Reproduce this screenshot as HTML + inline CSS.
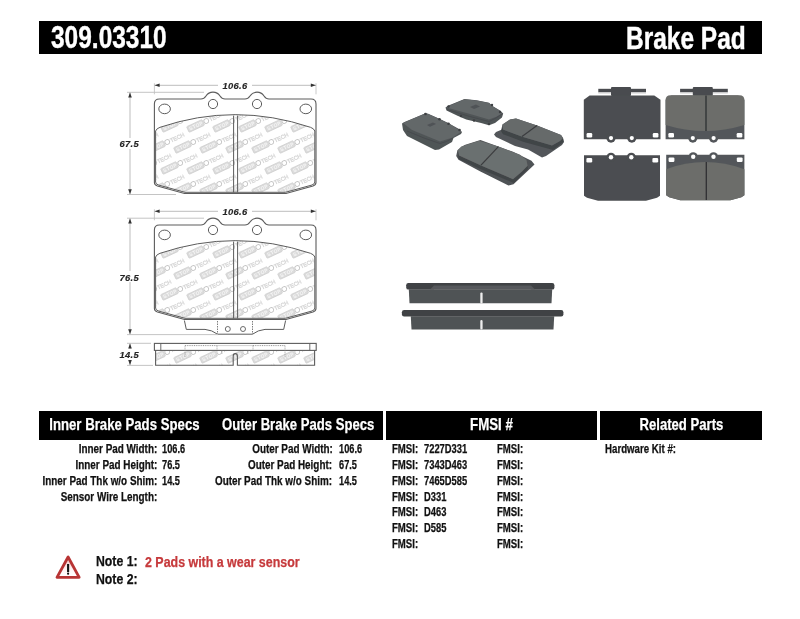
<!DOCTYPE html>
<html><head><meta charset="utf-8">
<style>
html,body{margin:0;padding:0;background:#fff;}
body{width:800px;height:619px;position:relative;overflow:hidden;font-family:"Liberation Sans",sans-serif;}
.a{position:absolute;white-space:nowrap;line-height:1;-webkit-text-stroke:0.25px currentColor;}
.n{display:inline-block;transform-origin:0 0;}
.bar{position:absolute;background:#000;}
svg{position:absolute;left:0;top:0;}
</style></head><body>
<svg width="800" height="619" viewBox="0 0 800 619">
<defs>
<clipPath id="cf1"><path d="M155.6 131 Q156.5 128.5 160 127.3 Q235 102 310.5 127.3 Q314 128.5 314.8 131 L314.8 182 Q314.8 184 312 185 L285.5 192.3 L185 192.3 L158.4 185 Q155.6 184 155.6 182 Z"/></clipPath>
<clipPath id="cf2"><path d="M155.6 257 Q156.5 254.5 160 253.3 Q235 228 310.5 253.3 Q314 254.5 314.8 257 L314.8 308 Q314.8 310 312 311 L285.5 318.3 L185 318.3 L158.4 311 Q155.6 310 155.6 308 Z"/></clipPath>
<clipPath id="cf3"><rect x="155.5" y="350.5" width="159" height="15"/></clipPath>
<pattern id="wm" patternUnits="userSpaceOnUse" x="150" y="90" width="26" height="42"><g transform="translate(-52 -21) rotate(-25)"><rect x="0" y="-5.8" width="17" height="6.2" rx="0.8" fill="#dcdcdc" stroke="#c8c8c8" stroke-width="0.6"/><text x="1.7" y="-1" font-size="5" font-weight="bold" fill="#f6f6f6" letter-spacing="0.35">STOP</text><circle cx="20.3" cy="-2.7" r="2.4" fill="none" stroke="#c4c4c4" stroke-width="0.9"/><text x="23.6" y="-0.5" font-size="5.6" fill="none" stroke="#d6d6d6" stroke-width="0.45">TECH</text></g><g transform="translate(-39 0) rotate(-25)"><rect x="0" y="-5.8" width="17" height="6.2" rx="0.8" fill="#dcdcdc" stroke="#c8c8c8" stroke-width="0.6"/><text x="1.7" y="-1" font-size="5" font-weight="bold" fill="#f6f6f6" letter-spacing="0.35">STOP</text><circle cx="20.3" cy="-2.7" r="2.4" fill="none" stroke="#c4c4c4" stroke-width="0.9"/><text x="23.6" y="-0.5" font-size="5.6" fill="none" stroke="#d6d6d6" stroke-width="0.45">TECH</text></g><g transform="translate(-52 21) rotate(-25)"><rect x="0" y="-5.8" width="17" height="6.2" rx="0.8" fill="#dcdcdc" stroke="#c8c8c8" stroke-width="0.6"/><text x="1.7" y="-1" font-size="5" font-weight="bold" fill="#f6f6f6" letter-spacing="0.35">STOP</text><circle cx="20.3" cy="-2.7" r="2.4" fill="none" stroke="#c4c4c4" stroke-width="0.9"/><text x="23.6" y="-0.5" font-size="5.6" fill="none" stroke="#d6d6d6" stroke-width="0.45">TECH</text></g><g transform="translate(-39 42) rotate(-25)"><rect x="0" y="-5.8" width="17" height="6.2" rx="0.8" fill="#dcdcdc" stroke="#c8c8c8" stroke-width="0.6"/><text x="1.7" y="-1" font-size="5" font-weight="bold" fill="#f6f6f6" letter-spacing="0.35">STOP</text><circle cx="20.3" cy="-2.7" r="2.4" fill="none" stroke="#c4c4c4" stroke-width="0.9"/><text x="23.6" y="-0.5" font-size="5.6" fill="none" stroke="#d6d6d6" stroke-width="0.45">TECH</text></g><g transform="translate(-52 63) rotate(-25)"><rect x="0" y="-5.8" width="17" height="6.2" rx="0.8" fill="#dcdcdc" stroke="#c8c8c8" stroke-width="0.6"/><text x="1.7" y="-1" font-size="5" font-weight="bold" fill="#f6f6f6" letter-spacing="0.35">STOP</text><circle cx="20.3" cy="-2.7" r="2.4" fill="none" stroke="#c4c4c4" stroke-width="0.9"/><text x="23.6" y="-0.5" font-size="5.6" fill="none" stroke="#d6d6d6" stroke-width="0.45">TECH</text></g><g transform="translate(-39 84) rotate(-25)"><rect x="0" y="-5.8" width="17" height="6.2" rx="0.8" fill="#dcdcdc" stroke="#c8c8c8" stroke-width="0.6"/><text x="1.7" y="-1" font-size="5" font-weight="bold" fill="#f6f6f6" letter-spacing="0.35">STOP</text><circle cx="20.3" cy="-2.7" r="2.4" fill="none" stroke="#c4c4c4" stroke-width="0.9"/><text x="23.6" y="-0.5" font-size="5.6" fill="none" stroke="#d6d6d6" stroke-width="0.45">TECH</text></g><g transform="translate(-26 -21) rotate(-25)"><rect x="0" y="-5.8" width="17" height="6.2" rx="0.8" fill="#dcdcdc" stroke="#c8c8c8" stroke-width="0.6"/><text x="1.7" y="-1" font-size="5" font-weight="bold" fill="#f6f6f6" letter-spacing="0.35">STOP</text><circle cx="20.3" cy="-2.7" r="2.4" fill="none" stroke="#c4c4c4" stroke-width="0.9"/><text x="23.6" y="-0.5" font-size="5.6" fill="none" stroke="#d6d6d6" stroke-width="0.45">TECH</text></g><g transform="translate(-13 0) rotate(-25)"><rect x="0" y="-5.8" width="17" height="6.2" rx="0.8" fill="#dcdcdc" stroke="#c8c8c8" stroke-width="0.6"/><text x="1.7" y="-1" font-size="5" font-weight="bold" fill="#f6f6f6" letter-spacing="0.35">STOP</text><circle cx="20.3" cy="-2.7" r="2.4" fill="none" stroke="#c4c4c4" stroke-width="0.9"/><text x="23.6" y="-0.5" font-size="5.6" fill="none" stroke="#d6d6d6" stroke-width="0.45">TECH</text></g><g transform="translate(-26 21) rotate(-25)"><rect x="0" y="-5.8" width="17" height="6.2" rx="0.8" fill="#dcdcdc" stroke="#c8c8c8" stroke-width="0.6"/><text x="1.7" y="-1" font-size="5" font-weight="bold" fill="#f6f6f6" letter-spacing="0.35">STOP</text><circle cx="20.3" cy="-2.7" r="2.4" fill="none" stroke="#c4c4c4" stroke-width="0.9"/><text x="23.6" y="-0.5" font-size="5.6" fill="none" stroke="#d6d6d6" stroke-width="0.45">TECH</text></g><g transform="translate(-13 42) rotate(-25)"><rect x="0" y="-5.8" width="17" height="6.2" rx="0.8" fill="#dcdcdc" stroke="#c8c8c8" stroke-width="0.6"/><text x="1.7" y="-1" font-size="5" font-weight="bold" fill="#f6f6f6" letter-spacing="0.35">STOP</text><circle cx="20.3" cy="-2.7" r="2.4" fill="none" stroke="#c4c4c4" stroke-width="0.9"/><text x="23.6" y="-0.5" font-size="5.6" fill="none" stroke="#d6d6d6" stroke-width="0.45">TECH</text></g><g transform="translate(-26 63) rotate(-25)"><rect x="0" y="-5.8" width="17" height="6.2" rx="0.8" fill="#dcdcdc" stroke="#c8c8c8" stroke-width="0.6"/><text x="1.7" y="-1" font-size="5" font-weight="bold" fill="#f6f6f6" letter-spacing="0.35">STOP</text><circle cx="20.3" cy="-2.7" r="2.4" fill="none" stroke="#c4c4c4" stroke-width="0.9"/><text x="23.6" y="-0.5" font-size="5.6" fill="none" stroke="#d6d6d6" stroke-width="0.45">TECH</text></g><g transform="translate(-13 84) rotate(-25)"><rect x="0" y="-5.8" width="17" height="6.2" rx="0.8" fill="#dcdcdc" stroke="#c8c8c8" stroke-width="0.6"/><text x="1.7" y="-1" font-size="5" font-weight="bold" fill="#f6f6f6" letter-spacing="0.35">STOP</text><circle cx="20.3" cy="-2.7" r="2.4" fill="none" stroke="#c4c4c4" stroke-width="0.9"/><text x="23.6" y="-0.5" font-size="5.6" fill="none" stroke="#d6d6d6" stroke-width="0.45">TECH</text></g><g transform="translate(0 -21) rotate(-25)"><rect x="0" y="-5.8" width="17" height="6.2" rx="0.8" fill="#dcdcdc" stroke="#c8c8c8" stroke-width="0.6"/><text x="1.7" y="-1" font-size="5" font-weight="bold" fill="#f6f6f6" letter-spacing="0.35">STOP</text><circle cx="20.3" cy="-2.7" r="2.4" fill="none" stroke="#c4c4c4" stroke-width="0.9"/><text x="23.6" y="-0.5" font-size="5.6" fill="none" stroke="#d6d6d6" stroke-width="0.45">TECH</text></g><g transform="translate(13 0) rotate(-25)"><rect x="0" y="-5.8" width="17" height="6.2" rx="0.8" fill="#dcdcdc" stroke="#c8c8c8" stroke-width="0.6"/><text x="1.7" y="-1" font-size="5" font-weight="bold" fill="#f6f6f6" letter-spacing="0.35">STOP</text><circle cx="20.3" cy="-2.7" r="2.4" fill="none" stroke="#c4c4c4" stroke-width="0.9"/><text x="23.6" y="-0.5" font-size="5.6" fill="none" stroke="#d6d6d6" stroke-width="0.45">TECH</text></g><g transform="translate(0 21) rotate(-25)"><rect x="0" y="-5.8" width="17" height="6.2" rx="0.8" fill="#dcdcdc" stroke="#c8c8c8" stroke-width="0.6"/><text x="1.7" y="-1" font-size="5" font-weight="bold" fill="#f6f6f6" letter-spacing="0.35">STOP</text><circle cx="20.3" cy="-2.7" r="2.4" fill="none" stroke="#c4c4c4" stroke-width="0.9"/><text x="23.6" y="-0.5" font-size="5.6" fill="none" stroke="#d6d6d6" stroke-width="0.45">TECH</text></g><g transform="translate(13 42) rotate(-25)"><rect x="0" y="-5.8" width="17" height="6.2" rx="0.8" fill="#dcdcdc" stroke="#c8c8c8" stroke-width="0.6"/><text x="1.7" y="-1" font-size="5" font-weight="bold" fill="#f6f6f6" letter-spacing="0.35">STOP</text><circle cx="20.3" cy="-2.7" r="2.4" fill="none" stroke="#c4c4c4" stroke-width="0.9"/><text x="23.6" y="-0.5" font-size="5.6" fill="none" stroke="#d6d6d6" stroke-width="0.45">TECH</text></g><g transform="translate(0 63) rotate(-25)"><rect x="0" y="-5.8" width="17" height="6.2" rx="0.8" fill="#dcdcdc" stroke="#c8c8c8" stroke-width="0.6"/><text x="1.7" y="-1" font-size="5" font-weight="bold" fill="#f6f6f6" letter-spacing="0.35">STOP</text><circle cx="20.3" cy="-2.7" r="2.4" fill="none" stroke="#c4c4c4" stroke-width="0.9"/><text x="23.6" y="-0.5" font-size="5.6" fill="none" stroke="#d6d6d6" stroke-width="0.45">TECH</text></g><g transform="translate(13 84) rotate(-25)"><rect x="0" y="-5.8" width="17" height="6.2" rx="0.8" fill="#dcdcdc" stroke="#c8c8c8" stroke-width="0.6"/><text x="1.7" y="-1" font-size="5" font-weight="bold" fill="#f6f6f6" letter-spacing="0.35">STOP</text><circle cx="20.3" cy="-2.7" r="2.4" fill="none" stroke="#c4c4c4" stroke-width="0.9"/><text x="23.6" y="-0.5" font-size="5.6" fill="none" stroke="#d6d6d6" stroke-width="0.45">TECH</text></g><g transform="translate(26 -21) rotate(-25)"><rect x="0" y="-5.8" width="17" height="6.2" rx="0.8" fill="#dcdcdc" stroke="#c8c8c8" stroke-width="0.6"/><text x="1.7" y="-1" font-size="5" font-weight="bold" fill="#f6f6f6" letter-spacing="0.35">STOP</text><circle cx="20.3" cy="-2.7" r="2.4" fill="none" stroke="#c4c4c4" stroke-width="0.9"/><text x="23.6" y="-0.5" font-size="5.6" fill="none" stroke="#d6d6d6" stroke-width="0.45">TECH</text></g><g transform="translate(39 0) rotate(-25)"><rect x="0" y="-5.8" width="17" height="6.2" rx="0.8" fill="#dcdcdc" stroke="#c8c8c8" stroke-width="0.6"/><text x="1.7" y="-1" font-size="5" font-weight="bold" fill="#f6f6f6" letter-spacing="0.35">STOP</text><circle cx="20.3" cy="-2.7" r="2.4" fill="none" stroke="#c4c4c4" stroke-width="0.9"/><text x="23.6" y="-0.5" font-size="5.6" fill="none" stroke="#d6d6d6" stroke-width="0.45">TECH</text></g><g transform="translate(26 21) rotate(-25)"><rect x="0" y="-5.8" width="17" height="6.2" rx="0.8" fill="#dcdcdc" stroke="#c8c8c8" stroke-width="0.6"/><text x="1.7" y="-1" font-size="5" font-weight="bold" fill="#f6f6f6" letter-spacing="0.35">STOP</text><circle cx="20.3" cy="-2.7" r="2.4" fill="none" stroke="#c4c4c4" stroke-width="0.9"/><text x="23.6" y="-0.5" font-size="5.6" fill="none" stroke="#d6d6d6" stroke-width="0.45">TECH</text></g><g transform="translate(39 42) rotate(-25)"><rect x="0" y="-5.8" width="17" height="6.2" rx="0.8" fill="#dcdcdc" stroke="#c8c8c8" stroke-width="0.6"/><text x="1.7" y="-1" font-size="5" font-weight="bold" fill="#f6f6f6" letter-spacing="0.35">STOP</text><circle cx="20.3" cy="-2.7" r="2.4" fill="none" stroke="#c4c4c4" stroke-width="0.9"/><text x="23.6" y="-0.5" font-size="5.6" fill="none" stroke="#d6d6d6" stroke-width="0.45">TECH</text></g><g transform="translate(26 63) rotate(-25)"><rect x="0" y="-5.8" width="17" height="6.2" rx="0.8" fill="#dcdcdc" stroke="#c8c8c8" stroke-width="0.6"/><text x="1.7" y="-1" font-size="5" font-weight="bold" fill="#f6f6f6" letter-spacing="0.35">STOP</text><circle cx="20.3" cy="-2.7" r="2.4" fill="none" stroke="#c4c4c4" stroke-width="0.9"/><text x="23.6" y="-0.5" font-size="5.6" fill="none" stroke="#d6d6d6" stroke-width="0.45">TECH</text></g><g transform="translate(39 84) rotate(-25)"><rect x="0" y="-5.8" width="17" height="6.2" rx="0.8" fill="#dcdcdc" stroke="#c8c8c8" stroke-width="0.6"/><text x="1.7" y="-1" font-size="5" font-weight="bold" fill="#f6f6f6" letter-spacing="0.35">STOP</text><circle cx="20.3" cy="-2.7" r="2.4" fill="none" stroke="#c4c4c4" stroke-width="0.9"/><text x="23.6" y="-0.5" font-size="5.6" fill="none" stroke="#d6d6d6" stroke-width="0.45">TECH</text></g></pattern>
</defs>
<rect x="150" y="90" width="170" height="110" fill="url(#wm)" clip-path="url(#cf1)"/>
<path d="M154.4 104 Q154.4 99 159.4 99 L201 99 Q204 99 206 96 A8.3 8.3 0 0 1 220 96 Q222 99 225 99 L245 99 Q248 99 250 96 A8.3 8.3 0 0 1 264 96 Q266 99 269 99 L311 99 Q316 99 316 104 L316 182.5 Q316 185 313 186 L286 193.5 L184.5 193.5 L157.4 186 Q154.4 185 154.4 182.5 Z" fill="none" stroke="#5c5c5c" stroke-width="1.1"/>
<path d="M155.6 131 Q156.5 128.5 160 127.3 Q235 102 310.5 127.3 Q314 128.5 314.8 131 L314.8 182 Q314.8 184 312 185 L285.5 192.3 L185 192.3 L158.4 185 Q155.6 184 155.6 182 Z" fill="none" stroke="#5c5c5c" stroke-width="1"/>
<path d="M233.6 115.6 L233.6 192.5 M237.6 115.6 L237.6 192.5" stroke="#5c5c5c" stroke-width="1"/>
<ellipse cx="164.6" cy="108.9" rx="5.8" ry="4.8" fill="none" stroke="#5c5c5c" stroke-width="1"/>
<ellipse cx="305.8" cy="108.9" rx="5.8" ry="4.8" fill="none" stroke="#5c5c5c" stroke-width="1"/>
<circle cx="213" cy="104" r="4.6" fill="none" stroke="#5c5c5c" stroke-width="1"/>
<circle cx="257" cy="104" r="4.6" fill="none" stroke="#5c5c5c" stroke-width="1"/>
<path d="M154.4 85.3 L316 85.3" stroke="#bdbdbd" stroke-width="1"/>
<path d="M154.4 83.3 L154.4 94.3 M316 83.3 L316 94.3" stroke="#bdbdbd" stroke-width="0.8"/>
<path d="M154.6 85.3 L159.6 83.5 L159.6 87.1 Z" fill="#333"/>
<path d="M315.8 85.3 L310.8 83.5 L310.8 87.1 Z" fill="#333"/>
<rect x="218" y="80.3" width="34" height="10" fill="#fff"/>
<text x="235" y="88.5" text-anchor="middle" font-family="Liberation Sans" font-weight="bold" font-style="italic" font-size="9.4" fill="#222" stroke="#222" stroke-width="0.15" letter-spacing="0.35" opacity="0.99">106.6</text>
<rect x="150" y="216" width="170" height="110" fill="url(#wm)" clip-path="url(#cf2)"/>
<path d="M154.4 230 Q154.4 225 159.4 225 L201 225 Q204 225 206 222 A8.3 8.3 0 0 1 220 222 Q222 225 225 225 L245 225 Q248 225 250 222 A8.3 8.3 0 0 1 264 222 Q266 225 269 225 L311 225 Q316 225 316 230 L316 308.5 Q316 311 313 312 L286 319.5 L184.5 319.5 L157.4 312 Q154.4 311 154.4 308.5 Z" fill="none" stroke="#5c5c5c" stroke-width="1.1"/>
<path d="M155.6 257 Q156.5 254.5 160 253.3 Q235 228 310.5 253.3 Q314 254.5 314.8 257 L314.8 308 Q314.8 310 312 311 L285.5 318.3 L185 318.3 L158.4 311 Q155.6 310 155.6 308 Z" fill="none" stroke="#5c5c5c" stroke-width="1"/>
<path d="M233.6 241.6 L233.6 318.5 M237.6 241.6 L237.6 318.5" stroke="#5c5c5c" stroke-width="1"/>
<ellipse cx="164.6" cy="234.9" rx="5.8" ry="4.8" fill="none" stroke="#5c5c5c" stroke-width="1"/>
<ellipse cx="305.8" cy="234.9" rx="5.8" ry="4.8" fill="none" stroke="#5c5c5c" stroke-width="1"/>
<circle cx="213" cy="230" r="4.6" fill="none" stroke="#5c5c5c" stroke-width="1"/>
<circle cx="257" cy="230" r="4.6" fill="none" stroke="#5c5c5c" stroke-width="1"/>
<path d="M154.4 211.3 L316 211.3" stroke="#bdbdbd" stroke-width="1"/>
<path d="M154.4 209.3 L154.4 220.3 M316 209.3 L316 220.3" stroke="#bdbdbd" stroke-width="0.8"/>
<path d="M154.6 211.3 L159.6 209.5 L159.6 213.10000000000002 Z" fill="#333"/>
<path d="M315.8 211.3 L310.8 209.5 L310.8 213.10000000000002 Z" fill="#333"/>
<rect x="218" y="206.3" width="34" height="10" fill="#fff"/>
<text x="235" y="214.5" text-anchor="middle" font-family="Liberation Sans" font-weight="bold" font-style="italic" font-size="9.4" fill="#222" stroke="#222" stroke-width="0.15" letter-spacing="0.35" opacity="0.99">106.6</text>
<path d="M130 92.3 L130 194.3" stroke="#bdbdbd" stroke-width="1"/>
<path d="M127 92.3 L204 92.3 M127 194.5 L176 194.5" stroke="#bdbdbd" stroke-width="0.9"/>
<path d="M130 92.5 L128.2 97.5 L131.8 97.5 Z" fill="#333"/>
<path d="M130 194.2 L128.2 189.2 L131.8 189.2 Z" fill="#333"/>
<rect x="118" y="138" width="23" height="11" fill="#fff"/>
<text x="129.3" y="147" text-anchor="middle" font-family="Liberation Sans" font-weight="bold" font-style="italic" font-size="9.4" fill="#222" stroke="#222" stroke-width="0.15" letter-spacing="0.35" opacity="0.99">67.5</text>
<path d="M184.4 320.5 L186.3 329.4 L205 329.4 Q212 330 217.5 334.2 L252.5 334.2 Q258 330 265 329.4 L283.7 329.4 L285.6 320.5" fill="none" stroke="#5c5c5c" stroke-width="1"/>
<path d="M217.5 321 L217.5 334 M252.5 321 L252.5 334" stroke="#5c5c5c" stroke-width="0.8" stroke-dasharray="1.5 1"/>
<circle cx="227.8" cy="329" r="2.5" fill="none" stroke="#5c5c5c" stroke-width="0.9"/>
<circle cx="243" cy="329" r="2.5" fill="none" stroke="#5c5c5c" stroke-width="0.9"/>
<path d="M130 218.3 L130 334.3" stroke="#bdbdbd" stroke-width="1"/>
<path d="M127 218.2 L204 218.2 M127 334.6 L218 334.6" stroke="#bdbdbd" stroke-width="0.9"/>
<path d="M130 218.5 L128.2 223.5 L131.8 223.5 Z" fill="#333"/>
<path d="M130 334.3 L128.2 329.3 L131.8 329.3 Z" fill="#333"/>
<rect x="118" y="271" width="23" height="11" fill="#fff"/>
<text x="129.3" y="280.5" text-anchor="middle" font-family="Liberation Sans" font-weight="bold" font-style="italic" font-size="9.4" fill="#222" stroke="#222" stroke-width="0.15" letter-spacing="0.35" opacity="0.99">76.5</text>
<rect x="150" y="318" width="170" height="110" fill="url(#wm)" clip-path="url(#cf3)"/>
<rect x="154.4" y="343.4" width="161.8" height="7" fill="none" stroke="#5c5c5c" stroke-width="1.1"/>
<path d="M160.8 343.5 L160.8 350.4 M309.8 343.5 L309.8 350.4" stroke="#5c5c5c" stroke-width="0.9"/>
<path d="M155.6 350.6 L155.6 365.3 L233.2 365.3 L233.2 356 Q233.2 353.6 235.3 353.6 Q237.4 353.6 237.4 356 L237.4 365.3 L314.6 365.3 L314.6 350.6" fill="none" stroke="#5c5c5c" stroke-width="1.1"/>
<path d="M130 343.5 L130 365.2" stroke="#bdbdbd" stroke-width="1"/>
<path d="M127 343.3 L151 343.3 M127 365.4 L153 365.4" stroke="#bdbdbd" stroke-width="0.9"/>
<path d="M130 343.6 L128.2 348.6 L131.8 348.6 Z" fill="#333"/>
<path d="M130 365.1 L128.2 360.1 L131.8 360.1 Z" fill="#333"/>
<rect x="118" y="349" width="23" height="11" fill="#fff"/>
<text x="129.3" y="358" text-anchor="middle" font-family="Liberation Sans" font-weight="bold" font-style="italic" font-size="9.4" fill="#222" stroke="#222" stroke-width="0.15" letter-spacing="0.35" opacity="0.99">14.5</text>
<path d="M185 345.6 L217 345.6 M253 345.6 L285 345.6" stroke="#8a8a8a" stroke-width="0.9" stroke-dasharray="1 0.8"/>
<path d="M217 345.6 L253 345.6" stroke="#b0b0b0" stroke-width="0.6"/>
<path d="M185 345.6 L185 357 M217 345.6 L217 350 M253 345.6 L253 350 M285 345.6 L285 357 M222 350.5 L222 354 M248 350.5 L248 354" stroke="#8a8a8a" stroke-width="0.7" stroke-dasharray="1.2 0.8"/>
<defs><linearGradient id="tg" x1="0" y1="0" x2="0" y2="1"><stop offset="0" stop-color="#eebbbb"/><stop offset="0.6" stop-color="#fff4f4"/><stop offset="1" stop-color="#ffffff"/></linearGradient></defs>
<path d="M68.1 557 L57 577.3 L79.2 577.3 Z" fill="url(#tg)" stroke="#b83434" stroke-width="2.8" stroke-linejoin="round"/>
<path d="M68.1 564 L68.1 572" stroke="#151515" stroke-width="2.1"/>
<circle cx="68.1" cy="573.7" r="1.1" fill="#111"/>
</svg><svg width="800" height="619" viewBox="0 0 800 619">
<defs><filter id="bl" x="-5%" y="-5%" width="110%" height="110%"><feGaussianBlur stdDeviation="0.45"/></filter></defs>
<g filter="url(#bl)">
<path d="M402.0 123.5 L404.5 122.0 L425.0 113.5 L428.0 113.8 L440.0 119.0 L449.0 123.5 L459.0 129.0 L462.0 132.0 L461.0 134.0 L453.5 138.0 L452.0 142.0 L439.0 149.5 L435.0 150.0 L407.0 136.0 L403.0 130.0 Z" fill="#505456" />
<path d="M403.0 123.0 L425.0 113.5 L428.0 113.8 L449.0 123.5 L461.5 131.5 L453.0 137.5 L440.0 141.5 L412.0 130.0 Z" fill="#636769" />
<path d="M445.5 107.5 L448.5 105.5 L464.5 99.0 L476.7 100.2 L489.0 102.8 L492.5 106.0 L500.4 110.8 L503.2 113.6 L502.0 117.5 L495.0 123.0 L489.0 125.2 L481.1 123.0 L466.2 119.5 L457.5 115.8 L446.5 110.5 Z" fill="#505456" />
<path d="M446.0 107.2 L464.5 99.2 L476.7 100.5 L489.0 103.1 L492.5 106.2 L500.4 111.0 L502.0 113.5 L497.0 116.5 L489.0 119.5 L470.0 114.0 L450.0 108.5 Z" fill="#636769" />
<path d="M494.0 134.5 L496.0 132.0 L502.0 129.5 L502.5 124.5 L510.0 119.5 L516.0 118.5 L537.0 125.5 L561.0 135.0 L563.0 138.0 L564.0 142.0 L562.0 145.0 L546.0 156.0 L542.0 157.5 L528.0 149.5 L515.0 146.0 L496.0 137.0 Z" fill="#53575a" />
<path d="M502.5 124.5 L503.0 129.5 L523.0 137.0 L552.0 145.5 L560.0 141.0 L563.0 138.0 L563.5 142.0 L553.0 150.0 L523.0 141.8 L503.0 134.2 L501.0 131.0 Z" fill="#414447" />
<path d="M502.5 124.5 L510.0 119.5 L516.0 118.5 L537.0 125.5 L561.0 135.0 L563.0 138.0 L560.0 141.0 L552.0 145.5 L523.0 137.0 L503.0 129.5 Z" fill="#666a6b" />
<path d="M537 125.5 L522 136.5" stroke="#3a3c3e" stroke-width="1.2"/>
<path d="M456.2 156.0 L457.4 150.2 L464.6 145.0 L480.4 140.0 L513.0 151.8 L531.5 160.8 L534.5 164.6 L529.2 169.5 L513.5 184.3 L508.5 185.5 L480.4 171.5 L458.5 159.8 Z" fill="#505356" />
<path d="M457.9 150.0 L459.0 155.6 L481.5 165.7 L513.0 179.2 L522.0 171.4 L527.6 165.7 L528.0 169.0 L514.0 183.0 L481.5 169.5 L458.5 159.0 Z" fill="#414447" />
<path d="M457.9 150.0 L461.2 146.6 L479.2 140.8 L498.4 146.6 L519.7 154.5 L526.5 160.1 L527.6 165.7 L522.0 171.4 L513.0 179.2 L481.5 165.7 L459.0 155.6 Z" fill="#6b6f6f" />
<path d="M498.4 146.6 L481 165.2" stroke="#3a3c3e" stroke-width="1.2"/>
<circle cx="425.5" cy="114" r="1.3" fill="#3c3f42"/>
<circle cx="439.5" cy="119.2" r="1.3" fill="#3c3f42"/>
<circle cx="448.5" cy="123.8" r="1.3" fill="#3c3f42"/>
<circle cx="459.5" cy="130" r="1.3" fill="#3c3f42"/>
<path d="M427 125 L433 122.5 L436 124 L430 126.8 Z" fill="#4f5356"/>
<path d="M407 131 Q425 139 440 143.5 Q447 142 453 138" fill="none" stroke="#474b4e" stroke-width="1"/>
<circle cx="448.5" cy="106.5" r="1.2" fill="#3c3f42"/>
<circle cx="461" cy="116" r="1.2" fill="#3c3f42"/>
<circle cx="474" cy="120.5" r="1.2" fill="#3c3f42"/>
<circle cx="489" cy="124" r="1.2" fill="#3c3f42"/>
<circle cx="492" cy="105" r="1.2" fill="#3c3f42"/>
<circle cx="500" cy="112" r="1.2" fill="#3c3f42"/>
<path d="M470 107 L476 104.5 L480 106.5 L474 109 Z" fill="#4f5356"/>
<path d="M447 109.5 Q470 117 489 121.5 Q496 118.5 502 114" fill="none" stroke="#474b4e" stroke-width="1"/>
<rect x="598.3" y="88.8" width="47.7" height="3.6" fill="#4a4c4f"/>
<rect x="598.3" y="92.39999999999999" width="47.7" height="1.2" fill="#d8d8d8"/>
<rect x="611.0" y="87.0" width="20" height="9" rx="1" fill="#4a4c4f"/>
<path d="M583.8 99.8 L589.6 95.5 L654.3 95.5 L660.5 99.8 L660.5 139.3 L583.8 139.3 Z" fill="#4b4e51" />
<circle cx="611.0" cy="138.1" r="4.6" fill="#4b4e51"/><circle cx="631.8" cy="138.1" r="4.6" fill="#4b4e51"/>
<rect x="586.5999999999999" y="133.1" width="5.6" height="4.4" rx="1.2" fill="#fff"/><rect x="652.8" y="133.1" width="5.6" height="4.4" rx="1.2" fill="#fff"/>
<circle cx="611.0" cy="138.1" r="2.1" fill="#fff"/><circle cx="631.8" cy="138.1" r="2.1" fill="#fff"/>
<rect x="680.1" y="88.8" width="47.7" height="3.6" fill="#4a4c4f"/>
<rect x="680.1" y="92.39999999999999" width="47.7" height="1.2" fill="#d8d8d8"/>
<rect x="692.8000000000001" y="87.0" width="20" height="9" rx="1" fill="#4a4c4f"/>
<path d="M665.6 99.8 L671.4 95.5 L738.2 95.5 L744.4 99.8 L744.4 139.3 L665.6 139.3 Z" fill="#53575a" />
<circle cx="692.8000000000001" cy="138.1" r="4.6" fill="#53575a"/><circle cx="713.6" cy="138.1" r="4.6" fill="#53575a"/>
<rect x="668.4" y="133.1" width="5.6" height="4.4" rx="1.2" fill="#fff"/><rect x="736.6999999999999" y="133.1" width="5.6" height="4.4" rx="1.2" fill="#fff"/>
<circle cx="692.8000000000001" cy="138.1" r="2.1" fill="#fff"/><circle cx="713.6" cy="138.1" r="2.1" fill="#fff"/>
<path d="M665.6 100 Q665.6 95.3 670.5 95.3 L739.5 95.3 Q744.4 95.3 744.4 100 L744.4 125 Q705 137 665.6 125 Z" fill="#6c6d6a"/>
<path d="M706 95.5 L706 131" stroke="#2e3032" stroke-width="1.3"/>
<path d="M584.0 155.3 L660.0 155.3 L660.0 195.8 L657.0 197.8 L646.0 200.7 L598.0 200.7 L587.0 197.8 L584.0 195.8 Z" fill="#4b4e51" />
<circle cx="611" cy="157.3" r="4.6" fill="#4b4e51"/><circle cx="631.3" cy="157.3" r="4.6" fill="#4b4e51"/>
<rect x="586.4" y="157.9" width="5.8" height="4.6" rx="1.2" fill="#fff"/><rect x="652.4" y="157.9" width="5.8" height="4.6" rx="1.2" fill="#fff"/>
<circle cx="611" cy="157.3" r="2.2" fill="#fff"/><circle cx="631.3" cy="157.3" r="2.2" fill="#fff"/>
<path d="M666.2 154.8 L744.4 154.8 L744.4 195.3 L741.4 197.3 L730.4 200.2 L680.2 200.2 L669.2 197.3 L666.2 195.3 Z" fill="#53575a" />
<circle cx="693.2" cy="156.8" r="4.6" fill="#53575a"/><circle cx="713.5" cy="156.8" r="4.6" fill="#53575a"/>
<rect x="668.6" y="157.4" width="5.8" height="4.6" rx="1.2" fill="#fff"/><rect x="736.8000000000001" y="157.4" width="5.8" height="4.6" rx="1.2" fill="#fff"/>
<circle cx="693.2" cy="156.8" r="2.2" fill="#fff"/><circle cx="713.5" cy="156.8" r="2.2" fill="#fff"/>
<path d="M666.2 169.2 Q705 155 744.4 169.2 L744.4 195.3 L741.4 197.3 L730.4 200.2 L680.2 200.2 L669.2 197.3 L666.2 195.3 Z" fill="#6c6d6a"/>
<path d="M706.3 162 L706.3 200" stroke="#2e3032" stroke-width="1.3"/>
<rect x="406.2" y="283" width="148.2" height="6.6" rx="2.2" fill="#3f4245"/>
<path d="M408.8 289.3 L552.2 289.3 L551.5 303.3 L409.5 303.3 Z" fill="#4f5254"/>
<path d="M430 289.6 L434 285.5 L531 285.5 L535 289.6 Z" fill="#56595b"/>
<path d="M434 289.6 L531 289.6" stroke="#6a6d6f" stroke-width="0.7"/>
<rect x="480.3" y="292.5" width="2.3" height="11" rx="1.1" fill="#eeeeee"/>
<rect x="401.9" y="310" width="161.5" height="6.4" rx="2.2" fill="#3f4245"/>
<path d="M410.8 316.2 L554.2 316.2 L553.5 329.4 L411.5 329.4 Z" fill="#4f5254"/>
<rect x="480.3" y="320" width="2.3" height="9.6" rx="1.1" fill="#eeeeee"/>
</g></svg>
<div class="bar" style="left:39px;top:20.8px;width:723px;height:33.6px;"></div>
<div class="bar" style="left:39px;top:411px;width:344px;height:29px;"></div>
<div class="bar" style="left:386px;top:411px;width:211px;height:29px;"></div>
<div class="bar" style="left:600px;top:411px;width:162px;height:29px;"></div>
<div class="a" style="left:51.30px;top:21.01px;font-size:32px;color:#fff;font-weight:bold;-webkit-text-stroke:0.45px #fff;"><span class="n" style="transform:scaleX(0.765)">309.03310</span></div>
<div class="a" style="left:625.66px;top:22.01px;font-size:32px;color:#fff;font-weight:bold;-webkit-text-stroke:0.45px #fff;"><span class="n" style="transform:scaleX(0.765)">Brake Pad</span></div>
<div class="a" style="left:-175.70px;width:600px;text-align:center;top:416.12px;font-size:16.4px;color:#fff;font-weight:bold;"><span class="n" style="transform:scaleX(0.805);transform-origin:50% 0">Inner Brake Pads Specs</span></div>
<div class="a" style="left:-1.70px;width:600px;text-align:center;top:416.12px;font-size:16.4px;color:#fff;font-weight:bold;"><span class="n" style="transform:scaleX(0.8);transform-origin:50% 0">Outer Brake Pads Specs</span></div>
<div class="a" style="left:191.50px;width:600px;text-align:center;top:416.12px;font-size:16.4px;color:#fff;font-weight:bold;"><span class="n" style="transform:scaleX(0.81);transform-origin:50% 0">FMSI #</span></div>
<div class="a" style="left:381.00px;width:600px;text-align:center;top:416.12px;font-size:16.4px;color:#fff;font-weight:bold;"><span class="n" style="transform:scaleX(0.8);transform-origin:50% 0">Related Parts</span></div>
<div class="a" style="right:642.50px;top:443.34px;font-size:12px;color:#111;font-weight:bold;"><span class="n" style="transform:scaleX(0.824);transform-origin:100% 0">Inner Pad Width:</span></div>
<div class="a" style="left:162.00px;top:443.34px;font-size:12px;color:#111;font-weight:bold;"><span class="n" style="transform:scaleX(0.77)">106.6</span></div>
<div class="a" style="right:642.50px;top:459.09px;font-size:12px;color:#111;font-weight:bold;"><span class="n" style="transform:scaleX(0.824);transform-origin:100% 0">Inner Pad Height:</span></div>
<div class="a" style="left:162.00px;top:459.09px;font-size:12px;color:#111;font-weight:bold;"><span class="n" style="transform:scaleX(0.77)">76.5</span></div>
<div class="a" style="right:642.50px;top:474.84px;font-size:12px;color:#111;font-weight:bold;"><span class="n" style="transform:scaleX(0.824);transform-origin:100% 0">Inner Pad Thk w/o Shim:</span></div>
<div class="a" style="left:162.00px;top:474.84px;font-size:12px;color:#111;font-weight:bold;"><span class="n" style="transform:scaleX(0.77)">14.5</span></div>
<div class="a" style="right:642.50px;top:490.59px;font-size:12px;color:#111;font-weight:bold;"><span class="n" style="transform:scaleX(0.824);transform-origin:100% 0">Sensor Wire Length:</span></div>
<div class="a" style="right:467.50px;top:443.34px;font-size:12px;color:#111;font-weight:bold;"><span class="n" style="transform:scaleX(0.824);transform-origin:100% 0">Outer Pad Width:</span></div>
<div class="a" style="left:339.00px;top:443.34px;font-size:12px;color:#111;font-weight:bold;"><span class="n" style="transform:scaleX(0.77)">106.6</span></div>
<div class="a" style="right:467.50px;top:459.09px;font-size:12px;color:#111;font-weight:bold;"><span class="n" style="transform:scaleX(0.824);transform-origin:100% 0">Outer Pad Height:</span></div>
<div class="a" style="left:339.00px;top:459.09px;font-size:12px;color:#111;font-weight:bold;"><span class="n" style="transform:scaleX(0.77)">67.5</span></div>
<div class="a" style="right:467.50px;top:474.84px;font-size:12px;color:#111;font-weight:bold;"><span class="n" style="transform:scaleX(0.824);transform-origin:100% 0">Outer Pad Thk w/o Shim:</span></div>
<div class="a" style="left:339.00px;top:474.84px;font-size:12px;color:#111;font-weight:bold;"><span class="n" style="transform:scaleX(0.77)">14.5</span></div>
<div class="a" style="left:391.50px;top:443.34px;font-size:12px;color:#111;font-weight:bold;"><span class="n" style="transform:scaleX(0.8)">FMSI:</span></div>
<div class="a" style="left:424.00px;top:443.34px;font-size:12px;color:#111;font-weight:bold;"><span class="n" style="transform:scaleX(0.78)">7227D331</span></div>
<div class="a" style="left:497.20px;top:443.34px;font-size:12px;color:#111;font-weight:bold;"><span class="n" style="transform:scaleX(0.8)">FMSI:</span></div>
<div class="a" style="left:391.50px;top:459.09px;font-size:12px;color:#111;font-weight:bold;"><span class="n" style="transform:scaleX(0.8)">FMSI:</span></div>
<div class="a" style="left:424.00px;top:459.09px;font-size:12px;color:#111;font-weight:bold;"><span class="n" style="transform:scaleX(0.78)">7343D463</span></div>
<div class="a" style="left:497.20px;top:459.09px;font-size:12px;color:#111;font-weight:bold;"><span class="n" style="transform:scaleX(0.8)">FMSI:</span></div>
<div class="a" style="left:391.50px;top:474.84px;font-size:12px;color:#111;font-weight:bold;"><span class="n" style="transform:scaleX(0.8)">FMSI:</span></div>
<div class="a" style="left:424.00px;top:474.84px;font-size:12px;color:#111;font-weight:bold;"><span class="n" style="transform:scaleX(0.78)">7465D585</span></div>
<div class="a" style="left:497.20px;top:474.84px;font-size:12px;color:#111;font-weight:bold;"><span class="n" style="transform:scaleX(0.8)">FMSI:</span></div>
<div class="a" style="left:391.50px;top:490.59px;font-size:12px;color:#111;font-weight:bold;"><span class="n" style="transform:scaleX(0.8)">FMSI:</span></div>
<div class="a" style="left:424.00px;top:490.59px;font-size:12px;color:#111;font-weight:bold;"><span class="n" style="transform:scaleX(0.78)">D331</span></div>
<div class="a" style="left:497.20px;top:490.59px;font-size:12px;color:#111;font-weight:bold;"><span class="n" style="transform:scaleX(0.8)">FMSI:</span></div>
<div class="a" style="left:391.50px;top:506.34px;font-size:12px;color:#111;font-weight:bold;"><span class="n" style="transform:scaleX(0.8)">FMSI:</span></div>
<div class="a" style="left:424.00px;top:506.34px;font-size:12px;color:#111;font-weight:bold;"><span class="n" style="transform:scaleX(0.78)">D463</span></div>
<div class="a" style="left:497.20px;top:506.34px;font-size:12px;color:#111;font-weight:bold;"><span class="n" style="transform:scaleX(0.8)">FMSI:</span></div>
<div class="a" style="left:391.50px;top:522.09px;font-size:12px;color:#111;font-weight:bold;"><span class="n" style="transform:scaleX(0.8)">FMSI:</span></div>
<div class="a" style="left:424.00px;top:522.09px;font-size:12px;color:#111;font-weight:bold;"><span class="n" style="transform:scaleX(0.78)">D585</span></div>
<div class="a" style="left:497.20px;top:522.09px;font-size:12px;color:#111;font-weight:bold;"><span class="n" style="transform:scaleX(0.8)">FMSI:</span></div>
<div class="a" style="left:391.50px;top:537.84px;font-size:12px;color:#111;font-weight:bold;"><span class="n" style="transform:scaleX(0.8)">FMSI:</span></div>
<div class="a" style="left:497.20px;top:537.84px;font-size:12px;color:#111;font-weight:bold;"><span class="n" style="transform:scaleX(0.8)">FMSI:</span></div>
<div class="a" style="left:604.75px;top:443.34px;font-size:12px;color:#111;font-weight:bold;"><span class="n" style="transform:scaleX(0.807)">Hardware Kit #:</span></div>
<div class="a" style="left:96.00px;top:555.02px;font-size:13.8px;color:#111;font-weight:bold;"><span class="n" style="transform:scaleX(0.89)">Note 1:</span></div>
<div class="a" style="left:96.00px;top:573.32px;font-size:13.8px;color:#111;font-weight:bold;"><span class="n" style="transform:scaleX(0.89)">Note 2:</span></div>
<div class="a" style="left:144.80px;top:556.32px;font-size:13.8px;color:#c63a3c;font-weight:bold;"><span class="n" style="transform:scaleX(0.9)">2 Pads with a wear sensor</span></div>
</body></html>
